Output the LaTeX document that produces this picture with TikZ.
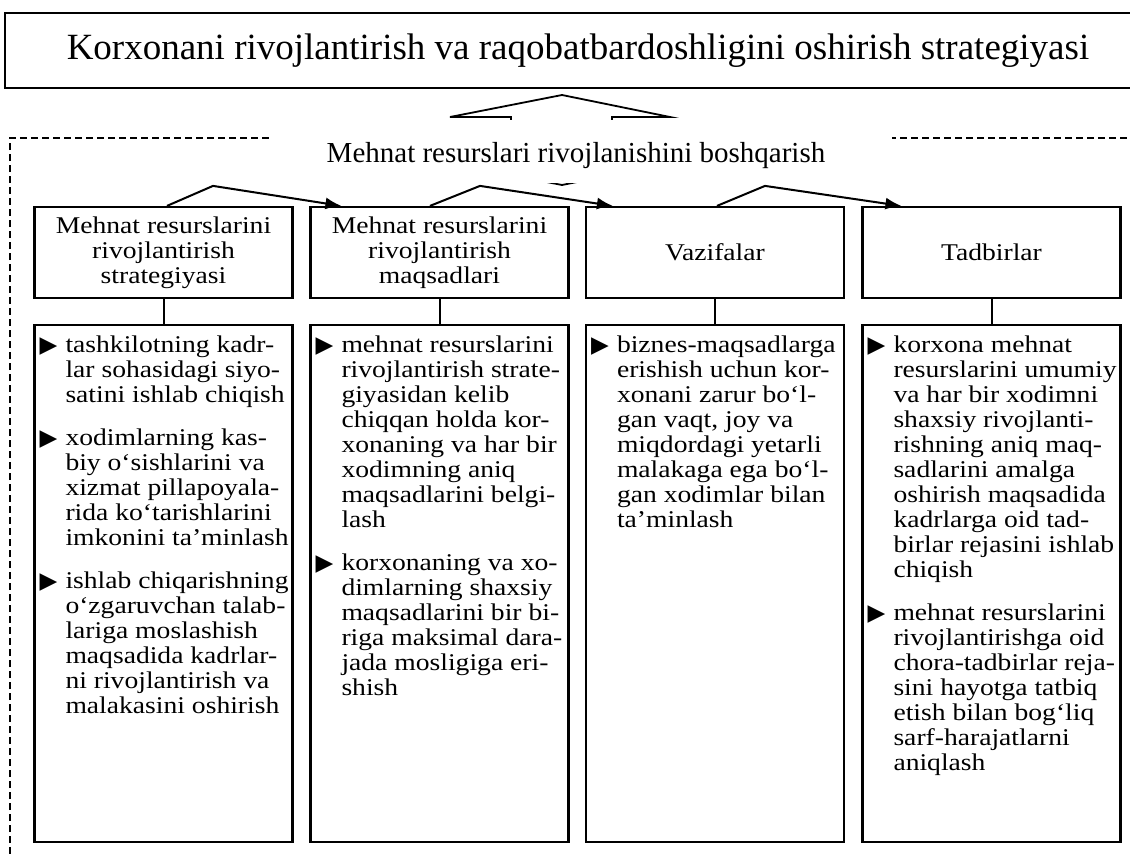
\documentclass[tikz,border=0pt]{standalone}
\usepackage{fontspec}
\setmainfont{Liberation Serif}
\newfontfamily\boxfont[FakeStretch=1.15]{Liberation Serif}
\newfontfamily\trifont{DejaVu Sans}
\usetikzlibrary{arrows.meta}

\newcommand{\tri}{\makebox[26pt][l]{\smash{\trifont\fontsize{23}{23}\selectfont ▶}}}
\newcommand{\listbody}[1]{\begin{minipage}[t][517pt][t]{258pt}\vspace*{10pt}%
  \begin{tabular}{@{\hspace{5pt}}l@{}l@{}}#1\end{tabular}\end{minipage}}

\begin{document}
\begin{tikzpicture}[x=1pt,y=-1pt]
    \tikzset{
      HeadStyle/.style = { draw, line width=2.2pt, minimum width=258pt,
                minimum height=91pt, inner sep=0pt, align=center,
                font=\boxfont\fontsize{24}{25}\selectfont },
      ListStyle/.style = { draw, line width=2.2pt, inner sep=0pt, anchor=north,
                font=\boxfont\fontsize{24}{25}\selectfont },
      LinkStyle/.style = { line width=2pt },
      FlowStyle/.style = { line width=2pt, -{Latex[length=16pt,width=12pt]} },
      FrameStyle/.style = { line width=2pt, dash pattern=on 7pt off 4pt } }
      \clip (0,0) rectangle (1130,854);

      % outer goal
      \node[draw, line width=2.2pt, minimum width=1146pt, minimum height=75pt,
            font=\fontsize{37}{40}\selectfont] (goal) at (578,50.5)
            {Korxonani rivojlantirish va raqobatbardoshligini oshirish strategiyasi};

      % dashed frame and wide arrow
      \draw[FrameStyle] (10,854) |- (1130,138);
      \draw[line width=1.8pt, line join=miter]
            (562,95) -- (670,117) -- (612,117) -- (612,175) -- (562,185)
            -- (511,175) -- (511,117) -- (450,117) -- cycle;
      \node[fill=white, minimum width=622pt, minimum height=63pt] (mgmtbg) at (581,151.5) {};
      \node[font=\fontsize{29}{32}\selectfont] (mgmt) at (576,156)
            {Mehnat resurslari rivojlanishini boshqarish};

      % headers
      \node[HeadStyle] (hdr1) at (163.5,252.5) {Mehnat resurslarini\\rivojlantirish\\strategiyasi};
      \node[HeadStyle] (hdr2) at (439.5,252.5) {Mehnat resurslarini\\rivojlantirish\\maqsadlari};
      \node[HeadStyle] (hdr3) at (715,252.5) {Vazifalar};
      \node[HeadStyle] (hdr4) at (991.5,252.5) {Tadbirlar};

      \draw[FlowStyle] ([xshift=3.5pt]hdr1.north) -- ++(46,-20) -- ([xshift=32pt]hdr2.north west);
      \draw[FlowStyle] ([xshift=-9.5pt]hdr2.north) -- ++(50,-20) -- ([xshift=28pt]hdr3.north west);
      \draw[FlowStyle] ([xshift=2pt]hdr3.north) -- ++(48,-20) -- ([xshift=40pt]hdr4.north west);

      % lists
      \node[ListStyle] (lst1) at (163.5,324) {\listbody{%
        \tri & tashkilotning kadr-\\ & lar sohasidagi siyo-\\ & satini ishlab chiqish\\[18pt]
        \tri & xodimlarning kas-\\ & biy o‘sishlarini va\\ & xizmat pillapoyala-\\
             & rida ko‘tarishlarini\\ & imkonini ta’minlash\\[18pt]
        \tri & ishlab chiqarishning\\ & o‘zgaruvchan talab-\\ & lariga moslashish\\
             & maqsadida kadrlar-\\ & ni rivojlantirish va\\ & malakasini oshirish}};
      \node[ListStyle] (lst2) at (439.5,324) {\listbody{%
        \tri & mehnat resurslarini\\ & rivojlantirish strate-\\ & giyasidan kelib\\
             & chiqqan holda kor-\\ & xonaning va har bir\\ & xodimning aniq\\
             & maqsadlarini belgi-\\ & lash\\[18pt]
        \tri & korxonaning va xo-\\ & dimlarning shaxsiy\\ & maqsadlarini bir bi-\\
             & riga maksimal dara-\\ & jada mosligiga eri-\\ & shish}};
      \node[ListStyle] (lst3) at (715,324) {\listbody{%
        \tri & biznes-maqsadlarga\\ & erishish uchun kor-\\ & xonani zarur bo‘l-\\
             & gan vaqt, joy va\\ & miqdordagi yetarli\\ & malakaga ega bo‘l-\\
             & gan xodimlar bilan\\ & ta’minlash}};
      \node[ListStyle] (lst4) at (991.5,324) {\listbody{%
        \tri & korxona mehnat\\ & resurslarini umumiy\\ & va har bir xodimni\\
             & shaxsiy rivojlanti-\\ & rishning aniq maq-\\ & sadlarini amalga\\
             & oshirish maqsadida\\ & kadrlarga oid tad-\\ & birlar rejasini ishlab\\
             & chiqish\\[18pt]
        \tri & mehnat resurslarini\\ & rivojlantirishga oid\\ & chora-tadbirlar reja-\\
             & sini hayotga tatbiq\\ & etish bilan bog‘liq\\ & sarf-harajatlarni\\
             & aniqlash}};

      \draw[LinkStyle] (hdr1) -- (lst1);
      \draw[LinkStyle] (hdr2) -- (lst2);
      \draw[LinkStyle] (hdr3) -- (lst3);
      \draw[LinkStyle] (hdr4) -- (lst4);
\end{tikzpicture}
\end{document}
